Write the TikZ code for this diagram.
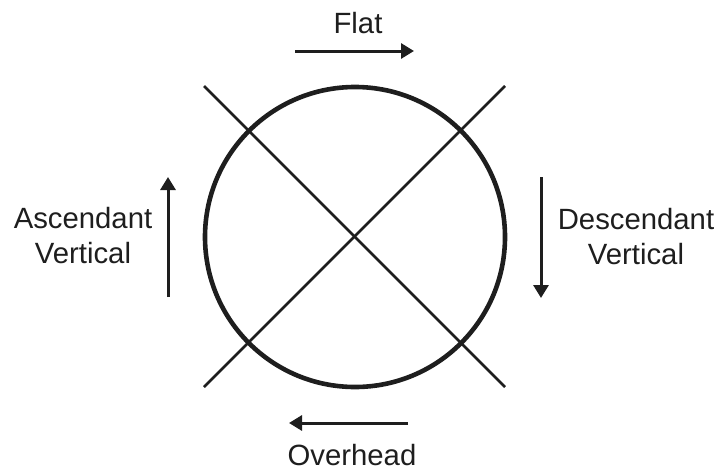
\documentclass[tikz,border=0pt]{standalone}
\usepackage{fontspec}
\setmainfont{Liberation Sans}
\usetikzlibrary{arrows.meta}
\definecolor{ink}{HTML}{1E1E1E}
\begin{document}
\begin{tikzpicture}[x=1pt,y=-1pt,
  lbl/.style={text=ink,font=\fontsize{29.3}{35}\selectfont,inner sep=0pt},
  dirarrow/.style={draw=ink,line width=3pt,-{Triangle[length=13pt,width=15pt]}},
  crossline/.style={draw=ink,line width=2.8pt},
  ring/.style={circle,draw=ink,line width=4.6pt,minimum size=300pt,inner sep=0pt}]
\useasboundingbox (0,0) rectangle (717,474);
\node[ring] (c) at (355,237) {};
\coordinate (tl) at (204,86);
\coordinate (br) at (505,387);
\coordinate (bl) at (204,387);
\coordinate (tr) at (505,86);
\draw[crossline] (tl) -- (br);
\draw[crossline] (bl) -- (tr);
% arrows
\coordinate (f1) at (295,51);
\coordinate (f2) at (414,51);
\draw[dirarrow] (f1) -- (f2);
\coordinate (a1) at (168,297);
\coordinate (a2) at (168,177);
\draw[dirarrow] (a1) -- (a2);
\coordinate (d1) at (541,177);
\coordinate (d2) at (541,298);
\draw[dirarrow] (d1) -- (d2);
\coordinate (o1) at (408,423);
\coordinate (o2) at (289,423);
\draw[dirarrow] (o1) -- (o2);
% labels
\node[lbl,anchor=base] (flat) at (358,33) {Flat};
\node[lbl,anchor=base] (over) at (352,465) {Overhead};
\node[lbl,align=center] (asc) at (83,236) {Ascendant\\Vertical};
\node[lbl,align=center] (desc) at (636,237) {Descendant\\Vertical};
\end{tikzpicture}
\end{document}
